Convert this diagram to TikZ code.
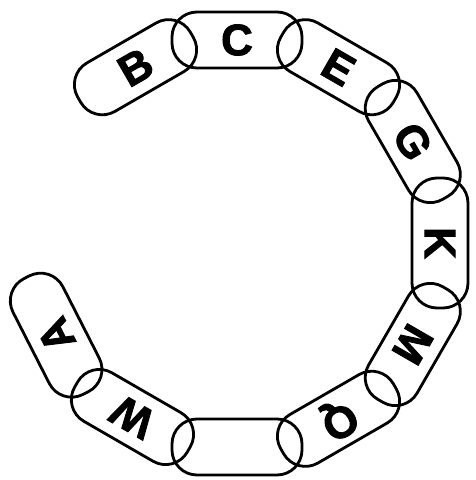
\documentclass[tikz,border=0pt]{standalone}
\usepackage{fontspec}
\setmainfont{Liberation Sans}
\newfontfamily\heavyfont{Liberation Sans Bold}[FakeBold=2]
\begin{document}
\begin{tikzpicture}[x=1pt,y=1pt,
  link/.style={draw, line width=2.8pt, rectangle, rounded corners=25pt,
    minimum width=130pt, minimum height=56pt, inner sep=0pt,
    font=\heavyfont\fontsize{44}{44}\selectfont}]
\useasboundingbox (0,0) rectangle (475,-480);
\begin{scope}[shift={(237,-243)}]
\node[link, rotate=30]   (lB) at (120:203) {B};
\node[link, rotate=0]    (lC) at (90:203)  {C};
\node[link, rotate=-30]  (lE) at (60:203)  {E};
\node[link, rotate=-60]  (lG) at (30:203)  {G};
\node[link, rotate=-90]  (lK) at (0:203)   {K};
\node[link, rotate=-120] (lM) at (-30:203) {M};
\node[link, rotate=-150] (lQ) at (-60:203) {Q};
\node[link, rotate=-180] (lX) at (-90:204) {};
\node[link, rotate=-210] (lW) at (-121:203) {W};
\node[link, rotate=-243] (lA) at (-153:203) {A};
\end{scope}
\end{tikzpicture}
\end{document}
